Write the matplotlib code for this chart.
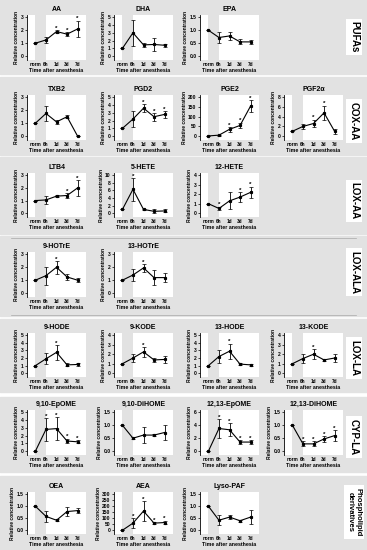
import matplotlib
matplotlib.use("Agg")
import matplotlib.pyplot as plt
from matplotlib.patches import Rectangle
import numpy as np

plt.rcParams['font.family'] = ['Liberation Sans', 'DejaVu Sans']
plt.rcParams['font.weight'] = 'bold'

# time points
timepoints = ["norm", "6h", "1d", "3d", "7d"]

# panel titles, grouped by row
titles = ["AA", "DHA", "EPA",
          "TXB2", "PGD2", "PGE2", "PGF2\u03b1",
          "LTB4", "5-HETE", "12-HETE",
          "9-HOTrE", "13-HOTrE",
          "9-HODE", "9-KODE", "13-HODE", "13-KODE",
          "9,10-EpOME", "9,10-DiHOME", "12,13-EpOME", "12,13-DiHOME",
          "OEA", "AEA", "Lyso-PAF"]
panel_row = [0, 0, 0, 1, 1, 1, 1, 2, 2, 2, 3, 3,
             4, 4, 4, 4, 5, 5, 5, 5, 6, 6, 6]
panel_col = [0, 1, 2, 0, 1, 2, 3, 0, 1, 2, 0, 1,
             0, 1, 2, 3, 0, 1, 2, 3, 0, 1, 2]

# mean relative concentration (norm, 6h, 1d, 3d, 7d)
means = [
    [1.0, 1.25, 1.9, 1.7, 2.1],
    [1.0, 3.0, 1.45, 1.5, 1.4],
    [1.0, 0.72, 0.78, 0.55, 0.55],
    [1.0, 1.75, 1.1, 1.5, 0.0],
    [1.0, 2.2, 3.6, 2.5, 2.8],
    [1.0, 5.0, 35.0, 55.0, 155.0],
    [1.0, 2.0, 2.6, 4.8, 1.0],
    [1.0, 1.05, 1.35, 1.4, 2.0],
    [1.0, 6.3, 1.0, 0.5, 0.6],
    [1.0, 0.5, 1.3, 1.7, 2.2],
    [1.0, 1.35, 2.0, 1.25, 1.0],
    [1.0, 1.4, 1.95, 1.2, 1.2],
    [1.0, 1.9, 2.75, 1.1, 1.15],
    [1.0, 1.6, 2.25, 1.4, 1.45],
    [1.0, 2.2, 2.9, 1.2, 1.1],
    [1.0, 1.55, 2.0, 1.4, 1.6],
    [0.0, 2.8, 2.9, 1.3, 1.2],
    [1.0, 0.5, 0.62, 0.62, 0.72],
    [0.0, 3.5, 3.3, 1.4, 1.4],
    [1.0, 0.28, 0.28, 0.47, 0.6],
    [1.0, 0.58, 0.42, 0.78, 0.82],
    [1.0, 60.0, 160.0, 60.0, 65.0],
    [1.0, 0.42, 0.55, 0.4, 0.55],
]

# error bars
errors = [
    [0.0, 0.25, 0.12, 0.15, 0.65],
    [0.0, 1.7, 0.25, 0.8, 0.2],
    [0.0, 0.2, 0.15, 0.1, 0.08],
    [0.0, 0.6, 0.15, 0.1, 0.0],
    [0.0, 1.0, 0.5, 0.5, 0.4],
    [0.0, 2.0, 12.0, 15.0, 30.0],
    [0.0, 0.5, 0.8, 1.5, 0.5],
    [0.0, 0.3, 0.08, 0.2, 0.6],
    [0.0, 3.0, 0.2, 0.5, 0.4],
    [0.0, 0.2, 0.9, 0.5, 0.6],
    [0.0, 0.7, 0.5, 0.2, 0.15],
    [0.0, 0.5, 0.3, 0.55, 0.35],
    [0.0, 0.7, 1.0, 0.2, 0.2],
    [0.0, 0.4, 0.5, 0.2, 0.35],
    [0.0, 0.8, 1.0, 0.15, 0.1],
    [0.0, 0.5, 0.55, 0.15, 0.4],
    [0.0, 1.5, 1.5, 0.3, 0.2],
    [0.0, 0.05, 0.3, 0.05, 0.3],
    [0.0, 1.5, 1.0, 0.25, 0.3],
    [0.0, 0.1, 0.1, 0.1, 0.2],
    [0.0, 0.22, 0.05, 0.2, 0.12],
    [0.0, 40.0, 80.0, 10.0, 15.0],
    [0.0, 0.2, 0.08, 0.05, 0.3],
]

# significance marks (1 = asterisk)
stars = [
    [0, 0, 1, 1, 1],
    [0, 0, 0, 0, 0],
    [0, 0, 0, 0, 0],
    [0, 0, 0, 0, 0],
    [0, 0, 1, 1, 1],
    [0, 0, 1, 1, 1],
    [0, 0, 1, 1, 0],
    [0, 0, 0, 1, 1],
    [0, 1, 0, 0, 0],
    [0, 1, 0, 1, 1],
    [0, 0, 1, 0, 0],
    [0, 0, 1, 0, 0],
    [0, 0, 1, 0, 0],
    [0, 0, 1, 0, 0],
    [0, 0, 1, 0, 0],
    [0, 0, 1, 0, 0],
    [0, 1, 1, 1, 1],
    [0, 0, 0, 0, 0],
    [0, 1, 1, 1, 1],
    [0, 1, 1, 1, 1],
    [0, 0, 0, 0, 0],
    [0, 1, 1, 1, 1],
    [0, 0, 0, 0, 0],
]

# y axis range and tick step
ymax = [3, 5, 1.5, 3, 5, 200, 8, 3, 10, 4, 3, 3,
        5, 4, 5, 4, 5, 1.5, 6, 1.5, 1.5, 300, 1.5]
ystep = [1, 1, 0.5, 1, 1, 50, 2, 1, 2, 1, 1, 1,
         1, 1, 1, 1, 1, 0.5, 2, 0.5, 0.5, 50, 0.5]

group_labels = ["PUFAs", "COX-AA", "LOX-AA", "LOX-ALA", "LOX-LA", "CYP-LA",
                "Phospholipid\nderivatives"]
group_fontsize = [7, 7, 7, 7, 7, 7, 5.5]

# ------ layout (pixels) ------
W, H = 367, 550
# band top, band bottom, axes top, axes bottom, label centre
rows = [(0, 74, 15, 60, 37),
        (77, 155, 95, 140, 121),
        (157, 234, 173, 217, 201),
        (236, 316, 252, 297, 272),
        (319, 392, 333, 377, 358),
        (397, 472, 410, 455, 437),
        (476, 550, 492, 534, 512)]
col_left = [27, 114, 200, 284]
col_w = 59

fig = plt.figure(figsize=(W / 100, H / 100), dpi=100, facecolor='white')

band_color = '#e2e2e2'
for i, (bt, bb, at, ab, lc) in enumerate(rows):
    fig.add_artist(Rectangle((0, 1 - bb / H), 1, (bb - bt) / H,
                             transform=fig.transFigure, color=band_color,
                             zorder=0))
    fig.text(354 / W, 1 - lc / H, group_labels[i], rotation=-90,
             ha='center', va='center', fontsize=group_fontsize[i],
             fontweight='bold', linespacing=1.15, multialignment='center',
             bbox=dict(facecolor='white', edgecolor='none', pad=1.8))

for y in [238, 315]:
    fig.add_artist(plt.Line2D([0.03, 0.97], [1 - y / H, 1 - y / H],
                              transform=fig.transFigure, color='#a8a8a8',
                              lw=0.5))

x = np.arange(len(timepoints))
for k in range(len(titles)):
    bt, bb, at, ab, lc = rows[panel_row[k]]
    left = col_left[panel_col[k]]
    ax = fig.add_axes([left / W, 1 - ab / H, col_w / W, (ab - at) / H])
    ax.set_facecolor('white')
    ax.axvspan(0, 1, color=band_color, lw=0, zorder=0)
    m = np.array(means[k])
    e = np.array(errors[k])
    ax.errorbar(x, m, yerr=e, fmt='-s', color='black', ms=1.3, lw=0.8,
                elinewidth=0.6, capsize=1.2, capthick=0.5, zorder=3)
    for i in range(len(x)):
        if stars[k][i]:
            ax.annotate('*', (x[i], m[i] + e[i]), xytext=(0, -0.5),
                        textcoords='offset points', ha='center', va='bottom',
                        fontsize=4.5, fontweight='bold')
    top = ymax[k]
    ax.set_xlim(-0.8, 4.8)
    ax.set_ylim(-0.1 * top, 1.06 * top)
    ticks = np.arange(0, top + ystep[k] / 2, ystep[k])
    ax.set_yticks(ticks)
    if ystep[k] < 1:
        ax.set_yticklabels(['%.1f' % t for t in ticks])
    else:
        ax.set_yticklabels(['%d' % t for t in ticks])
    ax.set_xticks(x)
    ax.set_xticklabels(timepoints)
    ax.tick_params(axis='x', length=0, pad=1.5, labelsize=3.3)
    ax.tick_params(axis='y', length=1.5, width=0.5, pad=1, labelsize=3.6)
    for s in ['top', 'right', 'bottom']:
        ax.spines[s].set_visible(False)
    ax.spines['left'].set_linewidth(0.6)
    ax.set_title(titles[k], fontsize=5, fontweight='bold', pad=3)
    ax.set_xlabel('Time after anesthesia', fontsize=3.8, fontweight='bold',
                  labelpad=0.5)
    ax.set_ylabel('Relative concentration', fontsize=3.5, fontweight='bold',
                  labelpad=1)

fig.savefig('out.png', dpi=100, facecolor='white')
